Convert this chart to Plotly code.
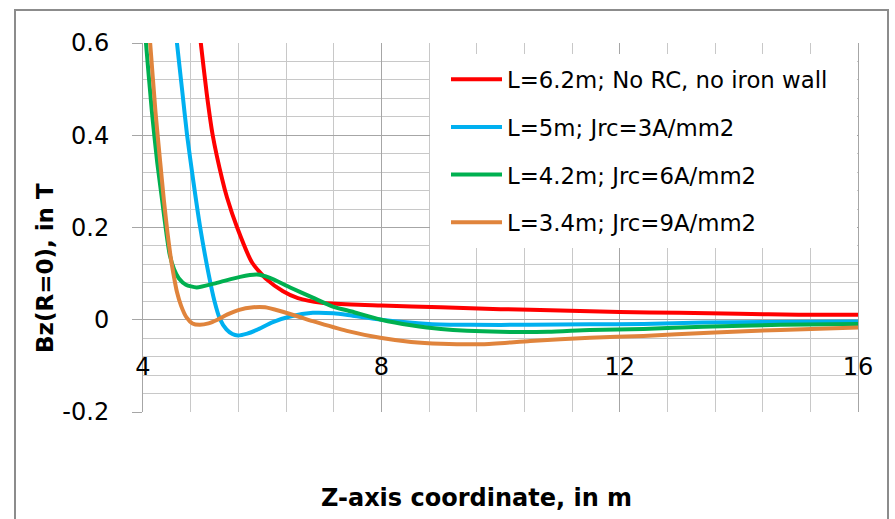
import plotly.graph_objects as go

# Axial field Bz on the axis (R=0) versus Z position, four shield configurations
names = [
    "L=6.2m; No RC, no iron wall",
    "L=5m; Jrc=3A/mm2",
    "L=4.2m; Jrc=6A/mm2",
    "L=3.4m; Jrc=9A/mm2",
]
colors = ["#FF0000", "#00B0F0", "#00B050", "#E0843C"]

z_red = [4.93, 4.97, 5.07, 5.17, 5.33, 5.41, 5.58, 5.83, 6.08, 6.35, 6.6, 7.0, 7.5, 8.0,
         9.0, 10.0, 11.0, 12.0, 13.0, 14.0, 15.0, 16.0]
b_red = [0.65, 0.60, 0.49, 0.40, 0.304, 0.265, 0.20, 0.124, 0.087, 0.062, 0.047, 0.037,
         0.033, 0.031, 0.027, 0.023, 0.020, 0.017, 0.015, 0.013, 0.011, 0.011]

z_blue = [4.55, 4.57, 4.655, 4.74, 4.845, 4.96, 5.1, 5.2, 5.29, 5.4, 5.5, 5.59, 5.75,
          5.91, 6.18, 6.47, 6.85, 7.2, 7.5, 8.0, 8.8, 9.5, 10.5, 11.5, 12.4, 13.4, 14.5, 16.0]
b_blue = [0.63, 0.60, 0.50, 0.40, 0.30, 0.20, 0.10, 0.04, 0.002, -0.021, -0.031, -0.034,
          -0.03, -0.022, -0.005, 0.007, 0.015, 0.014, 0.009, 0.0, -0.009, -0.011, -0.011,
          -0.010, -0.009, -0.006, -0.005, -0.004]

z_green = [4.03, 4.05, 4.15, 4.24, 4.32, 4.39, 4.45, 4.52, 4.6, 4.72, 4.9, 5.24, 5.63, 5.91,
           6.13, 6.47, 6.85, 7.2, 7.5, 8.0, 8.5, 9.0, 10.0, 10.8, 11.5, 12.4, 13.4, 14.7, 16.0]
b_green = [0.63, 0.60, 0.45, 0.34, 0.26, 0.19, 0.14, 0.11, 0.09, 0.076, 0.07, 0.08, 0.093,
           0.098, 0.091, 0.07, 0.048, 0.028, 0.018, 0.0, -0.012, -0.02, -0.026, -0.026,
           -0.022, -0.02, -0.015, -0.011, -0.009]

z_orange = [4.10, 4.12, 4.21, 4.29, 4.35, 4.41, 4.46, 4.51, 4.57, 4.64, 4.73, 4.83, 4.95,
            5.1, 5.25, 5.41, 5.6, 5.85, 6.05, 6.3, 6.63, 6.85, 7.42, 7.98, 8.5, 9.0, 9.7,
            10.5, 11.5, 12.4, 13.5, 14.7, 16.0]
b_orange = [0.63, 0.60, 0.45, 0.34, 0.26, 0.19, 0.14, 0.10, 0.06, 0.03, 0.005, -0.008,
            -0.011, -0.008, 0.0, 0.011, 0.021, 0.027, 0.027, 0.019, 0.006, -0.003, -0.024,
            -0.039, -0.048, -0.052, -0.053, -0.046, -0.039, -0.035, -0.028, -0.022, -0.017]

series = [(z_red, b_red), (z_blue, b_blue), (z_green, b_green), (z_orange, b_orange)]

x_ticks = [4, 8, 12, 16]
y_ticks = [-0.2, 0, 0.2, 0.4, 0.6]
y_tick_text = ["-0.2", "0", "0.2", "0.4", "0.6"]

fig = go.Figure()
for i, ((zs, bs), name, col) in enumerate(zip(series, names, colors)):
    fig.add_trace(go.Scatter(
        x=zs, y=bs, name=name, mode="lines",
        line=dict(color=col, width=4, shape="spline", smoothing=0.6),
        legendgroup=f"g{i}",
    ))

major_grid = "#A6A6A6"
minor_grid = "#C8C8C8"
tick_font = dict(family="DejaVu Sans", size=24, color="#000000")


# plot area spans 143..858 px horizontally and 43..412 px vertically
def px_x(px):
    return (px - 143) / 715


def px_y(py):
    return (412 - py) / 369


fig.update_layout(
    width=895, height=519,
    margin=dict(l=143, r=37, t=43, b=107),
    paper_bgcolor="#FFFFFF", plot_bgcolor="#FFFFFF",
    showlegend=True,
    legend=dict(
        x=px_x(446), y=px_y(58), xanchor="left", yanchor="top",
        bgcolor="rgba(0,0,0,0)", borderwidth=0,
        font=dict(family="DejaVu Sans", size=22.8, color="#000000"),
        traceorder="grouped", tracegroupgap=15, itemwidth=51,
    ),
    xaxis=dict(
        range=[4, 16], tickmode="array", tickvals=x_ticks,
        ticktext=[str(v) for v in x_ticks],
        showgrid=True, gridcolor=major_grid, gridwidth=1,
        minor=dict(tickmode="linear", tick0=4, dtick=0.8, showgrid=True,
                   gridcolor=minor_grid, gridwidth=1),
        zeroline=False, showline=False, ticks="",
        anchor="free", position=0.25,
        tickfont=tick_font, ticklabelstandoff=30,
    ),
    yaxis=dict(
        range=[-0.2, 0.6], tickmode="array", tickvals=y_ticks, ticktext=y_tick_text,
        showgrid=True, gridcolor=major_grid, gridwidth=1,
        minor=dict(tickmode="linear", tick0=-0.2, dtick=0.04, showgrid=True,
                   gridcolor=minor_grid, gridwidth=1),
        zeroline=False, showline=True, linecolor=major_grid, linewidth=1, mirror=True,
        ticks="outside", ticklen=10, tickcolor=major_grid, tickwidth=1,
        tickfont=tick_font, ticklabelstandoff=18,
    ),
    annotations=[
        dict(text="<b>Z-axis coordinate, in m</b>", xref="paper", yref="paper",
             x=px_x(476), y=px_y(498), xanchor="center", yanchor="middle", showarrow=False,
             font=dict(family="DejaVu Sans", size=24, color="#000000")),
        dict(text="<b>Bz(R=0), in T</b>", xref="paper", yref="paper",
             x=px_x(45), y=px_y(268), xanchor="center", yanchor="middle", showarrow=False,
             textangle=-90, font=dict(family="DejaVu Sans", size=23, color="#000000")),
    ],
    shapes=[
        # chart frame
        dict(type="rect", xref="paper", yref="paper",
             x0=px_x(15), x1=px_x(888), y0=px_y(560), y1=px_y(10),
             line=dict(color="#8C8C8C", width=2), fillcolor="rgba(0,0,0,0)", layer="below"),
        # white legend panel over the grid
        dict(type="rect", xref="paper", yref="paper",
             x0=px_x(430), x1=px_x(857), y0=px_y(248), y1=px_y(54),
             line=dict(width=0), fillcolor="#FFFFFF", layer="above"),
    ],
)

fig.write_html("out.html")
